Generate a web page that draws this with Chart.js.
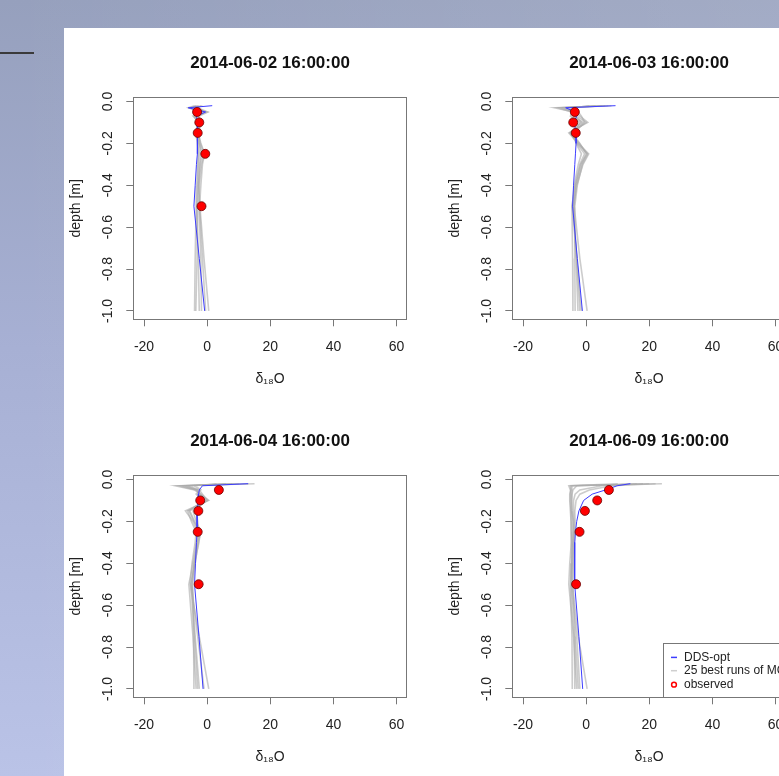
<!DOCTYPE html>
<html>
<head>
<meta charset="utf-8">
<script src="https://cdn.jsdelivr.net/npm/chart.js@4.4.1/dist/chart.umd.min.js"></script>
<style>
html,body{margin:0;padding:0}
body{width:779px;height:776px;overflow:hidden;position:relative;
  background:linear-gradient(to right,rgba(255,255,255,0) 0%,rgba(255,255,255,0.12) 100%),
             linear-gradient(to bottom,#96a0bd 0%,#a7b0d4 45%,#bac3e7 100%);}
#sheet{position:absolute;left:64px;top:28px;right:0;bottom:0;background:#fff}
#rule{position:absolute;left:0;top:52px;width:34px;height:2px;background:#3a3a3a}
canvas{position:absolute}
</style>
</head>
<body>
<div id="sheet"></div>
<div id="rule"></div>
<canvas id="p1" width="379" height="378" style="left:64px;top:28px"></canvas>
<canvas id="p2" width="379" height="378" style="left:443px;top:28px"></canvas>
<canvas id="p3" width="379" height="378" style="left:64px;top:406px"></canvas>
<canvas id="p4" width="379" height="378" style="left:443px;top:406px"></canvas>
<script>
// panel titles and axis ticks
const titles = ['2014-06-02 16:00:00','2014-06-03 16:00:00','2014-06-04 16:00:00','2014-06-09 16:00:00'];
const xTicks = [-20, 0, 20, 40, 60];
const yTicks = [0, -0.2, -0.4, -0.6, -0.8, -1.0];
const legendLabels = ['DDS-opt', '25 best runs of MC', 'observed'];

// model depths [m] and observation depths [m]
const depths   = [-0.02, -0.03, -0.05, -0.07, -0.1, -0.15, -0.2, -0.25, -0.3, -0.4, -0.5, -0.75, -1.0];
const obsDepth = [-0.05, -0.1, -0.15, -0.25, -0.5];

// 2014-06-02
const ddsP1 = [1.6, -6.0, -0.5, -3.4, -3.0, -3.1, -3.0, -3.2, -3.4, -3.8, -4.2, -2.5, -0.8];
const mcP1 = [
  [-2.5, -4.5, 0.0, -4.0, -3.0, -3.4, -2.6, -1.5, -2.2, -2.8, -3.0, -3.2, -3.6],
  [-3.5, -5.0, -1.0, -4.5, -2.5, -3.0, -2.2, -1.0, -1.8, -2.5, -2.6, -2.0, -1.8],
  [-1.5, -3.5, -0.5, -3.0, -2.0, -2.6, -2.4, -2.0, -2.4, -2.7, -2.3, -1.0, 0.5],
  [-4.0, -6.0, -2.0, -3.5, -3.2, -3.2, -2.8, -2.5, -2.8, -3.0, -3.3, -2.8, -2.5],
  [-2.0, -3.0, 0.2, -2.5, -2.6, -2.8, -2.0, -0.8, -1.5, -2.0, -2.4, -1.5, -0.5],
  [-3.0, -5.5, -1.5, -4.2, -2.8, -3.6, -3.1, -2.8, -3.0, -3.3, -3.5, -3.8, -4.0]
];
const obsP1 = [-3.2, -2.5, -3.0, -0.6, -1.8];

// 2014-06-03
const ddsP2 = [9.3, -6.5, -3.4, -3.0, -3.8, -3.2, -3.2, -3.4, -3.6, -4.0, -4.3, -2.8, -1.2];
const mcP2 = [
  [7.0, -10.0, -4.0, -2.0, 0.5, -5.5, -2.5, 0.8, -1.0, -3.0, -4.0, -3.0, -2.0],
  [5.0, -8.0, -3.5, -4.0, -1.0, -4.5, -2.0, 0.0, -1.5, -3.2, -3.8, -2.0, 0.3],
  [3.0, -6.0, -3.0, -3.0, 0.0, -5.0, -3.0, -0.5, -2.0, -3.5, -4.5, -4.3, -4.2],
  [8.0, -9.0, -4.5, -5.0, -2.0, -4.0, -2.8, 0.5, -1.2, -2.8, -3.6, -3.6, -3.5],
  [1.0, -4.0, -2.5, -1.5, -0.5, -3.8, -3.2, -1.5, -2.5, -3.8, -4.4, -3.0, -1.5],
  [6.0, -7.0, -3.8, -3.5, -1.5, -5.2, -2.2, 0.3, -1.8, -3.4, -4.0, -3.2, -2.6]
];
const obsP2 = [-3.6, -4.1, -3.3, null, null];

// 2014-06-04
const ddsP3 = [13.0, -1.5, -2.5, -2.7, -2.8, -3.2, -3.2, -3.2, -3.4, -3.7, -4.0, -2.6, -1.3];
const mcP3 = [
  [15.0, -10.0, -4.0, -2.0, 0.5, -6.9, -4.5, -3.0, -3.4, -4.5, -5.8, -4.5, -3.5],
  [10.0, -8.0, -3.0, -3.0, -1.0, -5.5, -4.0, -2.5, -3.0, -4.0, -5.0, -3.0, -1.0],
  [6.0, -6.0, -2.5, -1.5, 0.0, -4.5, -3.5, -2.0, -2.8, -3.8, -4.6, -4.3, -4.2],
  [13.0, -9.0, -3.5, -2.5, -0.5, -6.2, -5.0, -3.5, -3.8, -4.8, -5.4, -2.5, 0.5],
  [3.0, -4.0, -2.0, -3.5, -1.5, -3.5, -3.0, -2.8, -3.2, -4.2, -4.8, -3.8, -2.5],
  [8.0, -7.0, -3.2, -2.2, 0.2, -5.8, -4.2, -2.2, -2.6, -4.0, -5.2, -4.0, -3.0]
];
const obsP3 = [3.7, -2.2, -2.8, -3.0, -2.7];

// 2014-06-09
const ddsP4 = [14.0, 9.8, 6.1, 1.9, -0.8, -2.3, -3.0, -3.4, -3.6, -3.7, -3.6, -2.3, -1.1];
const mcP4 = [
  [24.0, -5.5, -5.0, -5.0, -5.0, -4.8, -4.5, -4.5, -4.6, -4.8, -5.0, -4.5, -4.4],
  [20.0, -4.5, -4.5, -4.8, -4.8, -4.5, -4.2, -4.0, -4.2, -4.5, -4.7, -3.0, -2.0],
  [16.0, 5.0, -2.0, -3.5, -4.0, -4.0, -3.8, -3.8, -4.0, -4.2, -4.4, -2.5, 0.3],
  [10.0, -5.0, -4.8, -5.2, -5.2, -5.0, -4.8, -4.6, -4.8, -5.2, -5.5, -4.0, -3.0],
  [22.0, 8.0, 1.0, -2.0, -3.2, -3.6, -3.5, -3.6, -3.8, -4.0, -4.2, -3.5, -2.5],
  [18.0, -3.0, -4.2, -4.5, -4.6, -4.4, -4.0, -4.2, -4.4, -4.6, -4.8, -3.8, -3.6]
];
const obsP4 = [7.2, 3.5, -0.4, -2.1, -3.2];

const INK = '#222';
const FRAME = '#777';
const BLUE = 'rgb(60,60,255)';
const GREY = 'rgba(170,170,170,0.6)';
const FAM = "'Liberation Sans', Arial, sans-serif";
Chart.defaults.font.family = FAM;
Chart.defaults.color = INK;

// R-style closed box round the plot region
const boxPlugin = {
  id: 'rBox',
  afterDatasetsDraw(chart){
    const a = chart.chartArea, ctx = chart.ctx;
    ctx.save();
    ctx.strokeStyle = FRAME; ctx.lineWidth = 1;
    ctx.strokeRect(Math.round(a.left)+0.5, Math.round(a.top)+0.5, Math.round(a.right-a.left), Math.round(a.bottom-a.top));
    ctx.restore();
  }
};

// bottom-right legend box (only on the last panel)
const legendPlugin = {
  id: 'rLegend',
  afterDraw(chart){
    const a = chart.chartArea, ctx = chart.ctx;
    const x0 = Math.round(a.left + 151), y0 = Math.round(a.bottom - 54);
    ctx.save();
    ctx.fillStyle = '#fff';
    ctx.fillRect(x0, y0, a.right - x0, a.bottom - y0);
    ctx.strokeStyle = FRAME; ctx.lineWidth = 1;
    ctx.strokeRect(x0 + 0.5, y0 + 0.5, Math.round(a.right - x0) + 2, Math.round(a.bottom - y0));
    const rows = [14.4, 27.7, 41.7];
    ctx.lineWidth = 1.5;
    ctx.strokeStyle = BLUE;
    ctx.beginPath(); ctx.moveTo(x0 + 8, y0 + rows[0]); ctx.lineTo(x0 + 14, y0 + rows[0]); ctx.stroke();
    ctx.strokeStyle = '#cfcfcf';
    ctx.beginPath(); ctx.moveTo(x0 + 8, y0 + rows[1]); ctx.lineTo(x0 + 14, y0 + rows[1]); ctx.stroke();
    ctx.strokeStyle = '#ff0000';
    ctx.beginPath(); ctx.arc(x0 + 11, y0 + rows[2], 2.4, 0, Math.PI * 2); ctx.stroke();
    ctx.fillStyle = INK;
    ctx.font = '12px ' + FAM;
    ctx.textBaseline = 'middle';
    legendLabels.forEach((t, i) => ctx.fillText(t, x0 + 21, y0 + rows[i]));
    ctx.restore();
  }
};

function toPoints(ys, xs){
  return ys.map((d, i) => ({x: xs[i], y: d})).filter(p => p.x !== null);
}

function drawPanel(id, title, dds, runs, obs, withLegend){
  const datasets = [];
  datasets.push({label: 'observed', data: toPoints(obsDepth, obs), showLine: false,
    pointRadius: 4.5, pointBackgroundColor: '#ff0000', pointBorderColor: '#6a0000', pointBorderWidth: 0.8});
  datasets.push({label: 'DDS-opt', data: toPoints(depths, dds), showLine: true,
    borderColor: BLUE, borderWidth: 1, pointRadius: 0, tension: 0});
  runs.forEach((r, k) => datasets.push({label: k ? '' : '25 best runs of MC', data: toPoints(depths, r),
    showLine: true, borderColor: GREY, borderWidth: 1.6, pointRadius: 0, tension: 0}));

  const plugins = [boxPlugin];
  if (withLegend) plugins.push(legendPlugin);

  new Chart(document.getElementById(id), {
    type: 'scatter',
    data: {datasets},
    plugins,
    options: {
      responsive: false,
      animation: false,
      events: [],
      layout: {padding: {left: 0, right: 36.3, top: 0, bottom: 0}},
      plugins: {
        legend: {display: false},
        tooltip: {enabled: false},
        title: {
          display: true, text: title, fullSize: false, color: '#111',
          font: {size: 17, weight: 'bold'},
          padding: {top: 24.8, bottom: 24.1}
        }
      },
      scales: {
        x: {
          type: 'linear', position: 'bottom', min: -23.4, max: 63.2,
          afterBuildTicks: s => { s.ticks = xTicks.map(v => ({value: v})); },
          afterFit: s => { s.height = 86.7; s.paddingLeft = 0; s.paddingRight = 0; },
          ticks: {font: {size: 14}, color: INK, padding: 12, maxRotation: 0, callback: v => String(v)},
          grid: {drawOnChartArea: false, drawTicks: true, tickLength: 7, color: FRAME},
          border: {display: false},
          title: {display: true, text: 'δ₁₈O', font: {size: 14}, color: INK, padding: {top: 0, bottom: 18.6}}
        },
        y: {
          type: 'linear', position: 'left', min: -1.04, max: 0.02,
          afterBuildTicks: s => { s.ticks = yTicks.map(v => ({value: v})); },
          afterFit: s => { s.width = 69.3; s.paddingTop = 0; s.paddingBottom = 0; },
          ticks: {font: {size: 14}, color: INK, padding: 6.3, minRotation: 90, maxRotation: 90,
            crossAlign: 'center', callback: v => Number(v).toFixed(1)},
          grid: {drawOnChartArea: false, drawTicks: true, tickLength: 7, color: FRAME},
          border: {display: false},
          title: {display: true, text: 'depth [m]', font: {size: 14}, color: INK, padding: {top: 4, bottom: 0}}
        }
      }
    }
  });
}

drawPanel('p1', titles[0], ddsP1, mcP1, obsP1, false);
drawPanel('p2', titles[1], ddsP2, mcP2, obsP2, false);
drawPanel('p3', titles[2], ddsP3, mcP3, obsP3, false);
drawPanel('p4', titles[3], ddsP4, mcP4, obsP4, true);
</script>
</body>
</html>
